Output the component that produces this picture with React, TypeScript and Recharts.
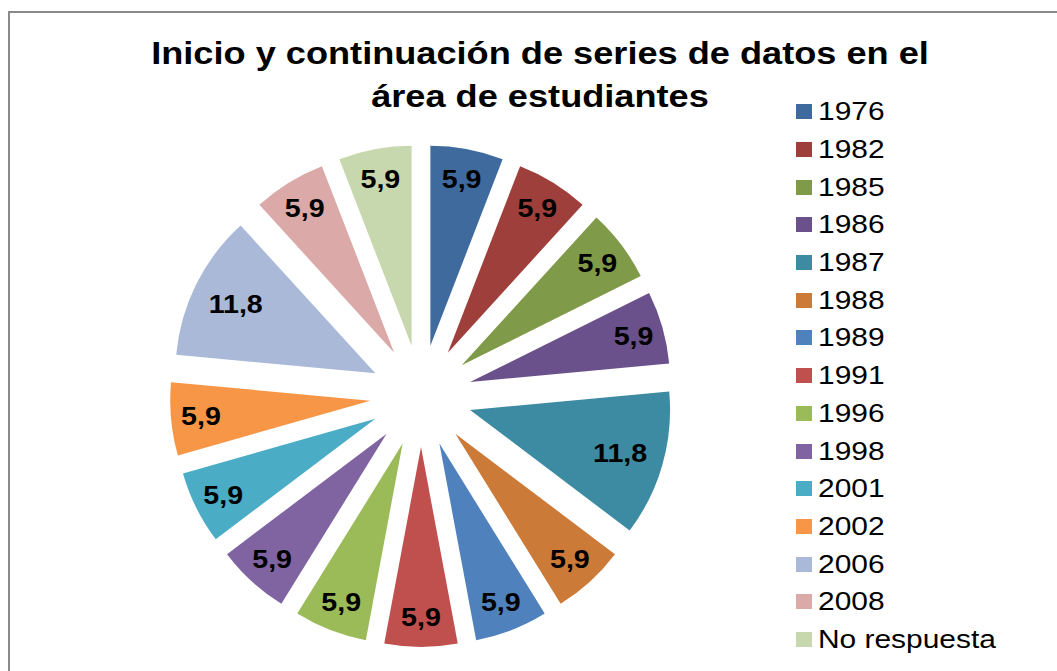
import React from 'react';
import { PieChart, Pie, Cell, Sector, Legend } from 'recharts';

const categories = ['1976', '1982', '1985', '1986', '1987', '1988', '1989', '1991', '1996', '1998', '2001', '2002', '2006', '2008', 'No respuesta'];
const values = [5.9, 5.9, 5.9, 5.9, 11.8, 5.9, 5.9, 5.9, 5.9, 5.9, 5.9, 5.9, 11.8, 5.9, 5.9];
const colors = ['#3F6A9E', '#9E3F3C', '#7F9A48', '#6A518B', '#3C8BA2', '#CB7A38', '#4F81BD', '#C0504D', '#9BBB59', '#8064A2', '#4BACC6', '#F79646', '#A9B9D7', '#DAA9A8', '#C7D7AE'];
const titleLines = ['Inicio y continuación de series de datos en el', 'área de estudiantes'];

const data = categories.map((name, i) => ({ name, value: values[i] }));

const FONT = '"Liberation Sans", Arial, Helvetica, sans-serif';
const RAD = Math.PI / 180;
const EXPLODE = 51;

const renderSlice = (props: any) => {
  const { cx, cy, midAngle, outerRadius, startAngle, endAngle, index, value } = props;
  const ux = Math.cos(-midAngle * RAD);
  const uy = Math.sin(-midAngle * RAD);
  const sx = cx + EXPLODE * ux;
  const sy = cy + EXPLODE * uy;
  const lr = value > 10 ? 0.78 * outerRadius : 0.85 * outerRadius;
  const lx = sx + lr * ux;
  const ly = sy + lr * uy;
  return (
    <g>
      <Sector
        cx={sx}
        cy={sy}
        innerRadius={0}
        outerRadius={outerRadius}
        startAngle={startAngle}
        endAngle={endAngle}
        fill={colors[index]}
        stroke="none"
      />
      <text
        x={0}
        y={0}
        transform={`translate(${lx},${ly}) scale(1.1,1)`}
        textAnchor="middle"
        dominantBaseline="central"
        fill="#000"
        fontFamily={FONT}
        fontWeight="bold"
        fontSize={26}
      >
        {String(value).replace('.', ',')}
      </text>
    </g>
  );
};

const renderLegend = (props: any) => {
  const { payload } = props;
  return (
    <div style={{ fontFamily: FONT, fontSize: 26, color: '#000' }}>
      {(payload || []).map((entry: any, i: number) => (
        <div key={i} style={{ height: 37.7, display: 'flex', alignItems: 'center', whiteSpace: 'nowrap' }}>
          <span style={{ display: 'inline-block', width: 16, height: 15, background: colors[i], marginRight: 6 }} />
          <span style={{ display: 'inline-block', transform: 'scaleX(1.15)', transformOrigin: 'left center' }}>{entry.value}</span>
        </div>
      ))}
    </div>
  );
};

export default function App() {
  return (
    <div style={{ position: 'absolute', left: 0, top: 0, width: 1057, height: 671, background: '#fff', overflow: 'hidden' }}>
      <div
        style={{
          position: 'absolute',
          left: 8,
          top: 11,
          width: 1049,
          height: 660,
          boxSizing: 'border-box',
          borderLeft: '2px solid #8a8a8a',
          borderTop: '2px solid #8a8a8a',
        }}
      />
      <div style={{ position: 'absolute', left: 0, top: 0 }}>
        <PieChart width={1057} height={671} margin={{ top: 0, right: 0, bottom: 0, left: 0 }}>
          <Pie
            data={data}
            dataKey="value"
            nameKey="name"
            cx={421}
            cy={396}
            outerRadius={200}
            startAngle={90}
            endAngle={-270}
            stroke="none"
            isAnimationActive={false}
            label={renderSlice}
            labelLine={false}
          >
            {data.map((d, i) => (
              <Cell key={d.name} fill={colors[i]} fillOpacity={0} />
            ))}
          </Pie>
          <Legend
            layout="vertical"
            align="right"
            verticalAlign="top"
            content={renderLegend}
            wrapperStyle={{ position: 'absolute', left: 796, top: 93, width: 250 }}
          />
        </PieChart>
      </div>
      <div
        style={{
          position: 'absolute',
          left: 100,
          top: 32,
          width: 880,
          textAlign: 'center',
          fontFamily: FONT,
          fontWeight: 'bold',
          fontSize: 32,
          lineHeight: '43px',
          color: '#000',
          transform: 'scaleX(1.13)',
          transformOrigin: 'center top',
        }}
      >
        {titleLines.map((t) => (
          <div key={t}>{t}</div>
        ))}
      </div>
    </div>
  );
}
